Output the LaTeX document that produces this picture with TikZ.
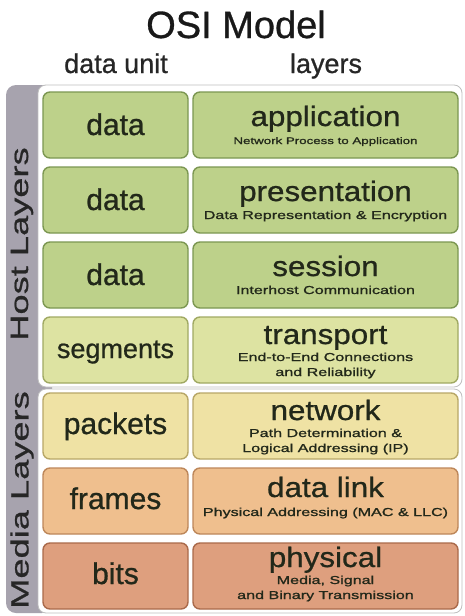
\documentclass[tikz,border=0pt]{standalone}
\usepackage{fontspec}
\setmainfont{Liberation Sans}[FakeBold=0.6]
\newfontfamily\plainfnt[FakeBold=0.8]{Liberation Sans}
\newfontfamily\subfnt[FakeStretch=1.4,FakeBold=1.2]{Liberation Sans}
\newfontfamily\titfnt[FakeStretch=1.12,FakeBold=0.8]{Liberation Sans}
\newfontfamily\sidefnt[FakeStretch=1.45,FakeBold=0.8]{Liberation Sans}
\definecolor{grnF}{HTML}{BDD18A}
\definecolor{grnD}{HTML}{7C9752}
\definecolor{trF}{HTML}{DDE3A2}
\definecolor{trD}{HTML}{A0A963}
\definecolor{nwF}{HTML}{EFE2A4}
\definecolor{nwD}{HTML}{B8A767}
\definecolor{dlF}{HTML}{EFBF8E}
\definecolor{dlD}{HTML}{BD875A}
\definecolor{phF}{HTML}{DE9F7E}
\definecolor{phD}{HTML}{AA6A4B}
\definecolor{sideG}{HTML}{A7A3AE}
\definecolor{txt}{HTML}{22281A}
\begin{document}
\begin{tikzpicture}[x=1pt,y=-1pt,
  box/.style={draw, rectangle, rounded corners=7pt, line width=1.4pt, minimum height=66pt, inner sep=0pt},
  unitbox/.style={box, minimum width=145pt},
  layerbox/.style={box, minimum width=265pt},
  unittxt/.style={anchor=base, inner sep=0pt, text=txt, font=\plainfnt\fontsize{30}{30}\selectfont},
  titletxt/.style={anchor=base, inner sep=0pt, text=txt, font=\titfnt\fontsize{28}{28}\selectfont},
  subtxt/.style={anchor=base, inner sep=0pt, text=txt, font=\subfnt\fontsize{11.5}{12}\selectfont},
  subsmall/.style={subtxt, font=\subfnt\fontsize{9.5}{10}\selectfont},
  headtxt/.style={anchor=base, inner sep=0pt, text=black!85, font=\plainfnt\fontsize{27}{27}\selectfont},
  sidetxt/.style={rotate=90, inner sep=0pt, text=black!85, font=\sidefnt\fontsize{25}{25}\selectfont},
]
\useasboundingbox (0,0) rectangle (464,616);
\fill[white] (0,0) rectangle (464,616);
% header
\node[anchor=base, inner sep=0pt, text=black!90, font=\plainfnt\fontsize{38}{38}\selectfont] (title) at (236,38) {OSI Model};
\node[headtxt] (hunit) at (116,73) {data unit};
\node[headtxt] (hlayer) at (326,73) {layers};
% sidebar and panels
\fill[sideG, rounded corners=10pt] (6,85) rectangle (52,613);
\filldraw[fill=white, draw=black!25, line width=0.8pt, rounded corners=8pt] (38,85) rectangle (462,387);
\filldraw[fill=white, draw=black!25, line width=0.8pt, rounded corners=8pt] (38,389) rectangle (462,613);
\node[sidetxt] (host) at (22,244) {Host Layers};
\node[sidetxt] (media) at (22,500) {Media Layers};
% boxes
\node[unitbox, fill=grnF, draw=grnD] (u1) at (115.5,125) {};
\node[layerbox, fill=grnF, draw=grnD] (l1) at (325.5,125) {};
\node[unitbox, fill=grnF, draw=grnD] (u2) at (115.5,200) {};
\node[layerbox, fill=grnF, draw=grnD] (l2) at (325.5,200) {};
\node[unitbox, fill=grnF, draw=grnD] (u3) at (115.5,275) {};
\node[layerbox, fill=grnF, draw=grnD] (l3) at (325.5,275) {};
\node[unitbox, fill=trF, draw=trD] (u4) at (115.5,350) {};
\node[layerbox, fill=trF, draw=trD] (l4) at (325.5,350) {};
\node[unitbox, fill=nwF, draw=nwD] (u5) at (115.5,426) {};
\node[layerbox, fill=nwF, draw=nwD] (l5) at (325.5,426) {};
\node[unitbox, fill=dlF, draw=dlD] (u6) at (115.5,501) {};
\node[layerbox, fill=dlF, draw=dlD] (l6) at (325.5,501) {};
\node[unitbox, fill=phF, draw=phD] (u7) at (115.5,576) {};
\node[layerbox, fill=phF, draw=phD] (l7) at (325.5,576) {};
% data units
\node[unittxt] (u1t) at (115.5,135) {data};
\node[unittxt] (u2t) at (115.5,210) {data};
\node[unittxt] (u3t) at (115.5,285) {data};
\node[unittxt, font=\plainfnt\fontsize{27}{27}\selectfont] (u4t) at (115.5,358) {segments};
\node[unittxt] (u5t) at (115.5,434) {packets};
\node[unittxt] (u6t) at (115.5,509) {frames};
\node[unittxt] (u7t) at (115.5,584) {bits};
% layers
\node[titletxt] (l1t) at (325.5,126) {application};
\node[subsmall] (l1s) at (325.5,144) {Network Process to Application};
\node[titletxt] (l2t) at (325.5,201) {presentation};
\node[subtxt] (l2s) at (325.5,219) {Data Representation \& Encryption};
\node[titletxt] (l3t) at (325.5,276) {session};
\node[subtxt] (l3s) at (325.5,294) {Interhost Communication};
\node[titletxt] (l4t) at (325.5,344) {transport};
\node[subtxt] (l4s) at (325.5,361) {End-to-End Connections};
\node[subtxt] (l4r) at (325.5,376) {and Reliability};
\node[titletxt] (l5t) at (325.5,420) {network};
\node[subtxt] (l5s) at (325.5,437) {Path Determination \&};
\node[subtxt] (l5r) at (325.5,452) {Logical Addressing (IP)};
\node[titletxt] (l6t) at (325.5,497) {data link};
\node[subtxt] (l6s) at (325.5,516) {Physical Addressing (MAC \& LLC)};
\node[titletxt] (l7t) at (325.5,567) {physical};
\node[subtxt] (l7s) at (325.5,584) {Media, Signal};
\node[subtxt] (l7r) at (325.5,599) {and Binary Transmission};
\end{tikzpicture}
\end{document}
